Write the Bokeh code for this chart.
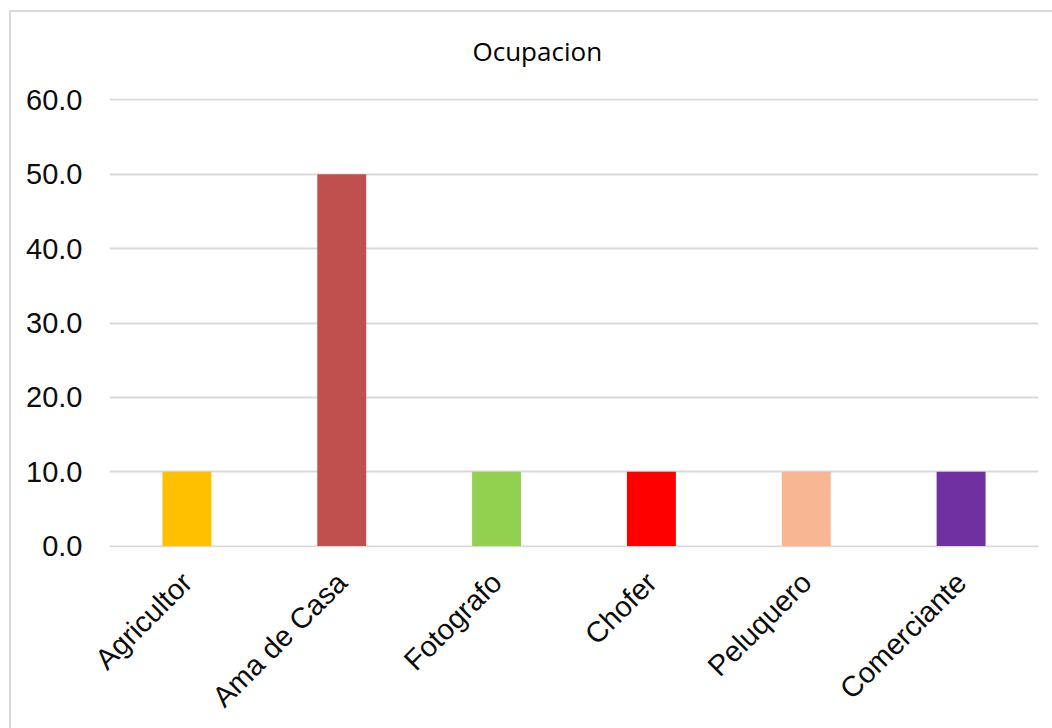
import math
from bokeh.plotting import figure
from bokeh.models import FixedTicker, NumeralTickFormatter
from bokeh.embed import file_html
from bokeh.resources import INLINE

# Occupation shares (percent)
categories = ["Agricultor", "Ama de Casa", "Fotografo", "Chofer", "Peluquero", "Comerciante"]
values = [10.0, 50.0, 10.0, 10.0, 10.0, 10.0]
colors = ["#FFC000", "#C0504D", "#92D050", "#FF0000", "#F8B692", "#7030A0"]
y_ticks = [0, 10, 20, 30, 40, 50, 60]
chart_title = "Ocupacion"

# Light grey chart-area frame (top and left edges) painted behind a transparent canvas
frame_css = (
    "linear-gradient(#d9d9d9, #d9d9d9) 9px 10px / 100% 2px no-repeat, "
    "linear-gradient(#d9d9d9, #d9d9d9) 9px 10px / 2px 100% no-repeat, "
    "#ffffff"
)

p = figure(
    x_range=categories,
    y_range=(-0.2, 60.2),
    width=1052,
    height=728,
    styles={"background": frame_css},
    output_backend="svg",
    toolbar_location=None,
    min_border_left=109,
    min_border_right=14,
    min_border_top=98,
    min_border_bottom=181,
    title=chart_title,
)
p.border_fill_color = None
p.background_fill_color = None

p.vbar(x=categories, top=values, width=0.316, color=colors, line_color=None)

p.title.align = "left"
p.title.offset = 363
p.title.text_font = "Open Sans"
p.title.text_font_style = "normal"
p.title.text_font_size = "26px"
p.title.text_color = "#000000"
p.title.standoff = 59

p.outline_line_color = None
p.xgrid.grid_line_color = None
p.ygrid.grid_line_color = "#d9d9d9"
p.ygrid.grid_line_width = 2

p.yaxis.ticker = FixedTicker(ticks=y_ticks)
p.yaxis.formatter = NumeralTickFormatter(format="0.0")
p.yaxis.axis_line_color = None
p.yaxis.major_tick_line_color = None
p.yaxis.minor_tick_line_color = None
p.yaxis.major_tick_out = 0
p.yaxis.major_tick_in = 0
p.yaxis.major_label_standoff = 27
p.yaxis.major_label_text_font = "Liberation Sans"
p.yaxis.major_label_text_font_size = "29px"
p.yaxis.major_label_text_color = "#0d0d0d"

p.xaxis.axis_line_color = None
p.xaxis.major_tick_line_color = None
p.xaxis.major_tick_out = 0
p.xaxis.major_tick_in = 0
p.xaxis.major_label_orientation = math.pi / 4
p.xaxis.major_label_standoff = 30
p.xaxis.major_label_text_font = "Liberation Sans"
p.xaxis.major_label_text_font_size = "29px"
p.xaxis.major_label_text_color = "#0d0d0d"

open("out.html", "w").write(file_html(p, INLINE))
